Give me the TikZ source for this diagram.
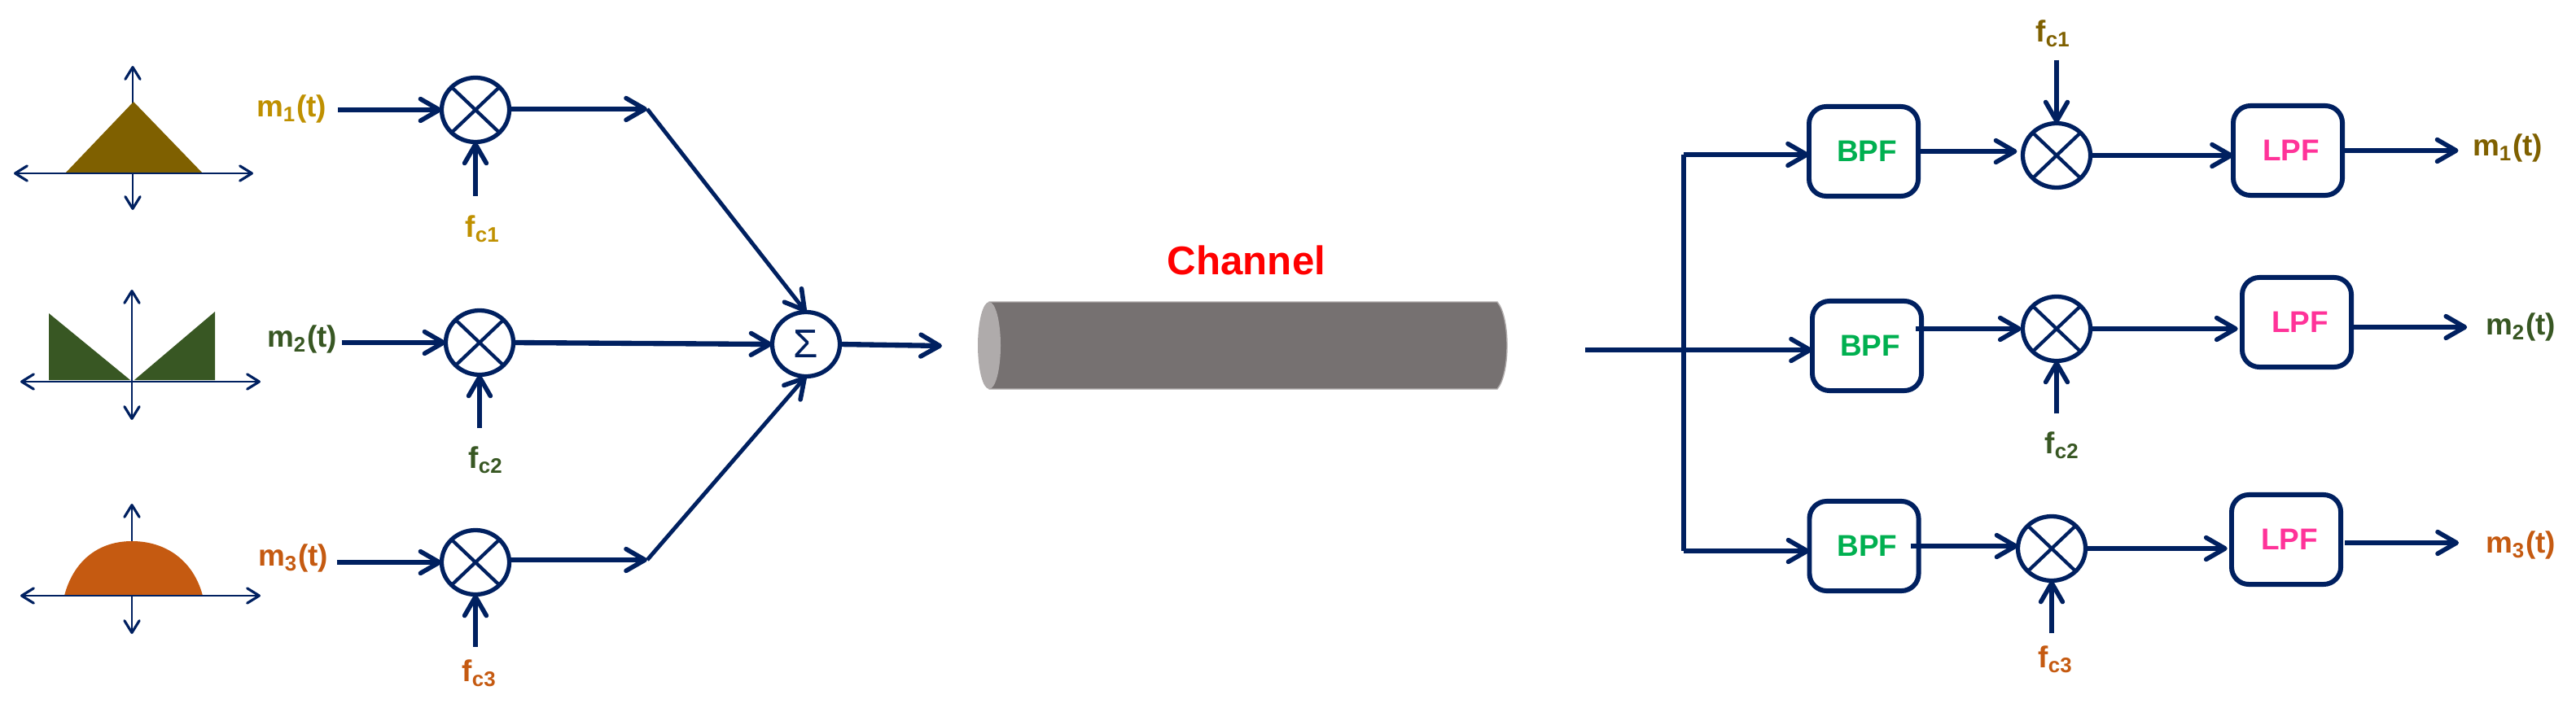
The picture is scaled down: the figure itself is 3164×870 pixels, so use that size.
\documentclass[tikz,border=0pt]{standalone}
\usepackage{fontspec}
\setmainfont{Liberation Sans}
\usetikzlibrary{arrows.meta,shapes.geometric}
\definecolor{navy}{HTML}{002060}
\definecolor{goldtxt}{HTML}{BF9000}
\definecolor{browntxt}{HTML}{7F6000}
\definecolor{greentxt}{HTML}{385723}
\definecolor{orangetxt}{HTML}{C55A11}
\definecolor{bpfgreen}{HTML}{00B050}
\definecolor{lpfpink}{HTML}{FF3399}
\definecolor{pipebody}{HTML}{767171}
\definecolor{pipeend}{HTML}{AFABAB}
\tikzset{
  sigline/.style={draw=navy,line width=1.8pt,-{Straight Barb[length=6.6pt,width=7.6pt,line width=1.6pt,round]}},
  slantline/.style={sigline,line width=1.4pt},
  plainline/.style={draw=navy,line width=1.6pt},
  axisline/.style={draw=navy,line width=0.8pt,{Straight Barb[length=4.2pt,width=5.2pt,line width=0.9pt,round]}-{Straight Barb[length=4.2pt,width=5.2pt,line width=0.9pt,round]}},
  mixer/.style={ellipse,draw=navy,fill=white,line width=1.5pt,minimum width=0.83cm,minimum height=0.79cm,inner sep=0pt,outer sep=0pt},
  filterbox/.style={draw=navy,fill=white,line width=1.7pt,rounded corners=6pt,minimum width=1.34cm,minimum height=1.10cm,inner sep=0pt,outer sep=0pt,font=\fontsize{10.5}{12}\selectfont\bfseries,execute at begin node=\hspace*{2.3pt}},
  siglabel/.style={inner sep=0pt,outer sep=0pt,font=\fontsize{10.5}{12}\selectfont\bfseries},
}
\begin{document}
\begin{tikzpicture}[x=0.01cm,y=-0.01cm]
\useasboundingbox (0,0) rectangle (3164,870);
\draw[axisline] (163,258) -- (163,81);
\fill[browntxt] (164,125) -- (249,213) -- (80,213) -- cycle;
\draw[axisline] (17,213) -- (311,213);
\draw[axisline] (162,516) -- (162,356);
\fill[greentxt] (60,385) -- (160,467) -- (60,467) -- cycle;
\fill[greentxt] (264,383) -- (264,467) -- (165,467) -- cycle;
\draw[axisline] (25,469) -- (320,469);
\draw[axisline] (162,779) -- (162,619);
\fill[orangetxt] (79,732) .. controls (90,690) and (120,665) .. (162,665) .. controls (205,665) and (238,690) .. (249,732) -- cycle;
\draw[axisline] (25,732) -- (320,732);
\node[siglabel,text=goldtxt] (laba) at (358,134) {m\textsubscript{1}(t)};
\node[siglabel,text=greentxt] (labb) at (371,417) {m\textsubscript{2}(t)};
\node[siglabel,text=orangetxt] (labc) at (360,686) {m\textsubscript{3}(t)};
\node[mixer] (mixa) at (584,135) {};
\node[mixer] (mixb) at (589,421) {};
\node[mixer] (mixc) at (584,691) {};
\node[siglabel,text=goldtxt] (fca) at (593,281) {f\textsubscript{c1}};
\node[siglabel,text=greentxt] (fcb) at (597,565) {f\textsubscript{c2}};
\node[siglabel,text=orangetxt] (fcc) at (589,827) {f\textsubscript{c3}};
\coordinate (joina) at (795,134);
\coordinate (joinc) at (795,688);
\node[mixer,font=\fontsize{14}{16}\selectfont,text=navy] (sum) at (990,423) {Σ};
\coordinate (sumout) at (1157,425);
\draw[sigline,shorten <=4pt] (laba.east |- mixa.west) -- (mixa.west);
\draw[sigline,shorten <=1.7pt] (labb.east |- mixb.west) -- (mixb.west);
\draw[sigline,shorten <=3.1pt] (labc.east |- mixc.west) -- (mixc.west);
\draw[sigline,shorten <=6.8pt] (fca.north -| mixa.south) -- (mixa.south);
\draw[sigline,shorten <=6.5pt] (fcb.north -| mixb.south) -- (mixb.south);
\draw[sigline,shorten <=4.5pt] (fcc.north -| mixc.south) -- (mixc.south);
\draw[sigline] (mixa.east |- joina) -- (joina);
\draw[sigline] (mixc.east |- joinc) -- (joinc);
\draw[slantline] (joina) -- (sum.north);
\draw[sigline] (mixb.east) -- (sum.west);
\draw[slantline] (joinc) -- (sum.south);
\draw[sigline] (sum.east) -- (sumout);
\fill[pipebody,draw=pipeend,line width=0.4pt] (1215,371) -- (1839,371) .. controls (1855,390) and (1855,459) .. (1839,478) -- (1215,478) -- cycle;
\fill[pipeend] (1215,424.5) ellipse[x radius=14,y radius=53.5];
\node[inner sep=0pt,text=red,font=\fontsize{14}{16}\selectfont\bfseries] (chan) at (1531,320) {Channel};
\coordinate (inlet) at (1947,430);
\coordinate (railtop) at (2068,190);
\coordinate (railbot) at (2068,677);
\coordinate (lpfcout) at (2880,667);
\node[filterbox,text=bpfgreen] (bpfa) at (2289,186) {BPF};
\node[filterbox,text=bpfgreen] (bpfb) at (2293,425) {BPF};
\node[filterbox,text=bpfgreen] (bpfc) at (2289.5,671) {BPF};
\node[mixer] (mixra) at (2526,191) {};
\node[mixer] (mixrb) at (2526,404) {};
\node[mixer] (mixrc) at (2520,674) {};
\node[filterbox,text=lpfpink] (lpfa) at (2810,185) {LPF};
\node[filterbox,text=lpfpink] (lpfb) at (2821,396) {LPF};
\node[filterbox,text=lpfpink] (lpfc) at (2808,663) {LPF};
\node[siglabel,text=browntxt] (fra) at (2522,41) {f\textsubscript{c1}};
\node[siglabel,text=greentxt] (frb) at (2533,547) {f\textsubscript{c2}};
\node[siglabel,text=orangetxt] (frc) at (2525,810) {f\textsubscript{c3}};
\node[siglabel,text=browntxt] (outa) at (3080,182) {m\textsubscript{1}(t)};
\node[siglabel,text=greentxt] (outb) at (3096,402) {m\textsubscript{2}(t)};
\node[siglabel,text=orangetxt] (outc) at (3096,670) {m\textsubscript{3}(t)};
\draw[plainline] (railtop) -- (railbot);
\draw[sigline] (inlet) -- (inlet -| bpfb.west);
\draw[sigline] (railtop) -- (railtop -| bpfa.west);
\draw[sigline] (railbot) -- (railbot -| bpfc.west);
\draw[sigline,shorten >=2pt] (bpfa.east) -- (bpfa.east -| mixra.west);
\draw[sigline,shorten <=-2pt,shorten >=0.5pt] (bpfb.east |- mixrb.west) -- (mixrb.west);
\draw[sigline,shorten <=-2.8pt] (bpfc.east) -- (bpfc.east -| mixrc.west);
\draw[sigline] (mixra.east) -- (mixra.east -| lpfa.west);
\draw[sigline,shorten >=1.5pt] (mixrb.east) -- (mixrb.east -| lpfb.west);
\draw[sigline,shorten >=1.5pt] (mixrc.east) -- (mixrc.east -| lpfc.west);
\draw[sigline,shorten <=4.6pt] (fra.south -| mixra.north) -- (mixra.north);
\draw[sigline,shorten <=6.3pt] (mixrb.south |- frb.north) -- (mixrb.south);
\draw[sigline,shorten <=4.5pt] (mixrc.south |- frc.north) -- (mixrc.south);
\draw[sigline,shorten >=5pt] (lpfa.east) -- (lpfa.east -| outa.west);
\draw[sigline,shorten >=6.5pt] (lpfb.east |- outb.west) -- (outb.west);
\draw[sigline,shorten >=9.4pt] (lpfcout) -- (lpfcout -| outc.west);
\foreach \m in {mixa,mixb,mixc,mixra,mixrb,mixrc}
  \draw[navy,line width=1.2pt] (\m.north west) -- (\m.south east) (\m.north east) -- (\m.south west);
\end{tikzpicture}
\end{document}
